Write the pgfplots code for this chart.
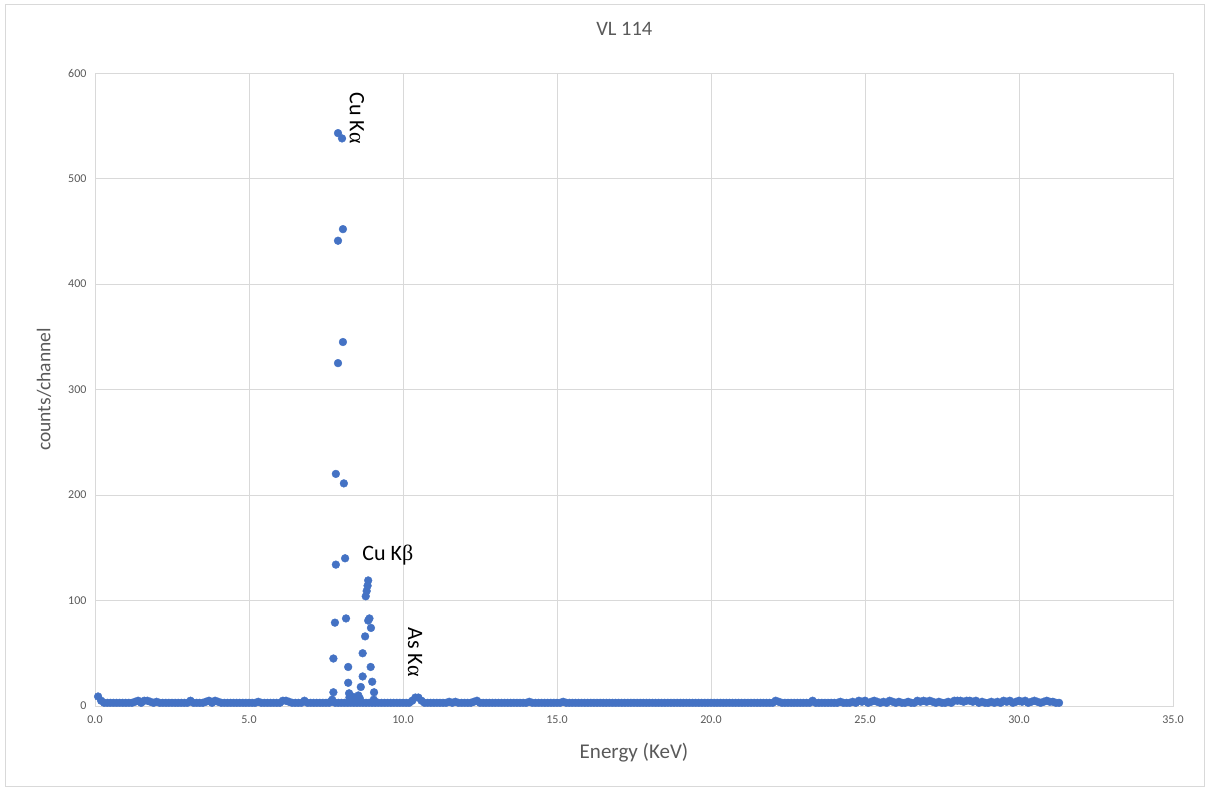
\documentclass[border=0pt]{standalone}
\usepackage{fontspec}
\setmainfont{Carlito}
\newfontfamily\greekfont{Liberation Serif}
\usepackage{pgfplots}
\pgfplotsset{compat=1.18}
\definecolor{xlblue}{HTML}{4472C4}
\definecolor{xlgrid}{HTML}{D9D9D9}
\definecolor{xltext}{HTML}{595959}
\begin{document}
\begin{tikzpicture}
\path[use as bounding box] (0,0) rectangle (1209pt,789pt);
\draw[xlgrid, line width=0.8pt] (5pt,3pt) rectangle (1204pt,785pt);
\begin{axis}[
  at={(95pt,83pt)}, anchor=south west, scale only axis,
  width=1078pt, height=633pt,
  xmin=0, xmax=35, ymin=0, ymax=600,
  xtick={0,5,...,35}, ytick={0,100,...,600},
  grid=major, grid style={xlgrid, line width=0.8pt},
  axis line style={xlgrid, line width=0.8pt},
  major tick length=0pt,
  clip=false,
  /pgf/number format/assume math mode=true,
  tick label style={font=\fontsize{12}{14}\selectfont, text=xltext},
  xticklabel style={/pgf/number format/fixed, /pgf/number format/fixed zerofill, /pgf/number format/precision=1, yshift=-6pt},
  yticklabel style={xshift=-5pt},
  title={VL 114},
  title style={at={(axis description cs:0.491,1.06)}, anchor=center, font=\fontsize{20.5}{24}\selectfont, text=xltext},
  xlabel={Energy (KeV)},
  xlabel style={at={(axis description cs:0.5,-0.0742)}, anchor=center, font=\fontsize{21}{24}\selectfont, text=xltext},
  ylabel={counts/channel},
  ylabel style={at={(axis description cs:-0.0473,0.5)}, anchor=center, font=\fontsize{19.5}{22}\selectfont, text=xltext},
]
% baseline channels
\addplot[only marks, mark=*, mark size=3.9pt, color=xlblue] coordinates {
(0.1,9)(0.2,5)(0.3,3)(0.4,3)(0.5,3)(0.6,3)(0.7,3)(0.8,3)(0.9,3)(1.0,3)
(1.1,3)(1.2,3)(1.3,4)(1.4,5)(1.5,3)(1.6,5)(1.7,5)(1.8,4)(1.9,3)(2.0,4)
(2.1,3)(2.2,3)(2.3,3)(2.4,3)(2.5,3)(2.6,3)(2.7,3)(2.8,3)(2.9,3)(3.0,3)
(3.1,5)(3.2,3)(3.3,3)(3.4,3)(3.5,3)(3.6,4)(3.7,5)(3.8,3)(3.9,5)(4.0,4)
(4.1,3)(4.2,3)(4.3,3)(4.4,3)(4.5,3)(4.6,3)(4.7,3)(4.8,3)(4.9,3)(5.0,3)
(5.1,3)(5.2,3)(5.3,4)(5.4,3)(5.5,3)(5.6,3)(5.7,3)(5.8,3)(5.9,3)(6.0,3)
(6.1,5)(6.2,5)(6.3,4)(6.4,3)(6.5,3)(6.6,3)(6.7,3)(6.8,5)(6.9,3)(7.0,3)
(7.1,3)(7.2,3)(7.3,3)(7.4,3)(7.5,3)(7.6,3)(7.7,6)(7.8,3)(7.9,3)(8.0,3)
(8.1,3)(8.2,3)(8.3,3)(8.4,3)(8.5,3)(8.6,3)(8.7,3)(8.8,3)(8.9,3)(9.0,3)
(9.1,3)(9.2,3)(9.3,3)(9.4,3)(9.5,3)(9.6,3)(9.7,3)(9.8,3)(9.9,3)(10.0,3)
(10.1,3)(10.2,3)(10.3,5)(10.4,8)(10.5,8)(10.6,5)(10.7,3)(10.8,3)(10.9,3)(11.0,3)
(11.1,3)(11.2,3)(11.3,3)(11.4,3)(11.5,4)(11.6,3)(11.7,4)(11.8,3)(11.9,3)(12.0,3)
(12.1,3)(12.2,3)(12.3,4)(12.4,5)(12.5,3)(12.6,3)(12.7,3)(12.8,3)(12.9,3)(13.0,3)
(13.1,3)(13.2,3)(13.3,3)(13.4,3)(13.5,3)(13.6,3)(13.7,3)(13.8,3)(13.9,3)(14.0,3)
(14.1,4)(14.2,3)(14.3,3)(14.4,3)(14.5,3)(14.6,3)(14.7,3)(14.8,3)(14.9,3)(15.0,3)
(15.1,3)(15.2,4)(15.3,3)(15.4,3)(15.5,3)(15.6,3)(15.7,3)(15.8,3)(15.9,3)(16.0,3)
(16.1,3)(16.2,3)(16.3,3)(16.4,3)(16.5,3)(16.6,3)(16.7,3)(16.8,3)(16.9,3)(17.0,3)
(17.1,3)(17.2,3)(17.3,3)(17.4,3)(17.5,3)(17.6,3)(17.7,3)(17.8,3)(17.9,3)(18.0,3)
(18.1,3)(18.2,3)(18.3,3)(18.4,3)(18.5,3)(18.6,3)(18.7,3)(18.8,3)(18.9,3)(19.0,3)
(19.1,3)(19.2,3)(19.3,3)(19.4,3)(19.5,3)(19.6,3)(19.7,3)(19.8,3)(19.9,3)(20.0,3)
(20.1,3)(20.2,3)(20.3,3)(20.4,3)(20.5,3)(20.6,3)(20.7,3)(20.8,3)(20.9,3)(21.0,3)
(21.1,3)(21.2,3)(21.3,3)(21.4,3)(21.5,3)(21.6,3)(21.7,3)(21.8,3)(21.9,3)(22.0,3)
(22.1,5)(22.2,4)(22.3,3)(22.4,3)(22.5,3)(22.6,3)(22.7,3)(22.8,3)(22.9,3)(23.0,3)
(23.1,3)(23.2,3)(23.3,5)(23.4,3)(23.5,3)(23.6,3)(23.7,3)(23.8,3)(23.9,3)(24.0,3)
(24.1,3)(24.2,4)(24.3,3)(24.4,3)(24.5,3)(24.6,4)(24.7,3)(24.8,5)(24.9,4)(25.0,5)
(25.1,3)(25.2,4)(25.3,5)(25.4,4)(25.5,3)(25.6,4)(25.7,3)(25.8,5)(25.9,4)(26.0,3)
(26.1,4)(26.2,3)(26.3,3)(26.4,4)(26.5,3)(26.6,3)(26.7,5)(26.8,4)(26.9,5)(27.0,4)
(27.1,5)(27.2,4)(27.3,3)(27.4,4)(27.5,3)(27.6,3)(27.7,4)(27.8,3)(27.9,5)(28.0,5)
(28.1,5)(28.2,4)(28.3,5)(28.4,5)(28.5,4)(28.6,5)(28.7,3)(28.8,4)(28.9,3)(29.0,3)
(29.1,4)(29.2,3)(29.3,4)(29.4,3)(29.5,5)(29.6,4)(29.7,5)(29.8,3)(29.9,4)(30.0,5)
(30.1,4)(30.2,5)(30.3,3)(30.4,4)(30.5,5)(30.6,4)(30.7,3)(30.8,4)(30.9,5)(31.0,4)
(31.1,4)(31.2,3)(31.3,3)
};
% Cu K alpha / K beta peak channels
\addplot[only marks, mark=*, mark size=3.9pt, color=xlblue] coordinates {
(7.65,4)(7.74,13)(7.74,45)(7.79,79)(7.82,134)(7.82,220)(7.89,325)(7.89,441)
(7.89,543)(8.02,538)(8.05,452)(8.05,345)(8.08,211)(8.12,140)(8.15,83)
(8.22,37)(8.22,22)(8.25,12)(8.26,8)(8.30,6)(8.35,9)(8.40,5)(8.45,7)(8.50,6)(8.55,10)(8.60,7)
(8.63,18)(8.69,28)(8.69,50)(8.77,66)(8.79,104)(8.82,109)(8.85,114)(8.87,119)
(8.91,83)(8.87,81)(8.96,74)(8.95,37)(9.00,23)(9.06,13)(9.05,6)(9.10,4)
};
\node[rotate=-90, font=\fontsize{22}{26}\selectfont] at (axis cs:8.5,557) {Cu K{\greekfont α}};
\node[font=\fontsize{22}{26}\selectfont] at (axis cs:9.51,143) {Cu K{\greekfont β}};
\node[rotate=-90, font=\fontsize{22}{26}\selectfont] at (axis cs:10.39,51) {As K{\greekfont α}};
\end{axis}
\end{tikzpicture}
\end{document}
